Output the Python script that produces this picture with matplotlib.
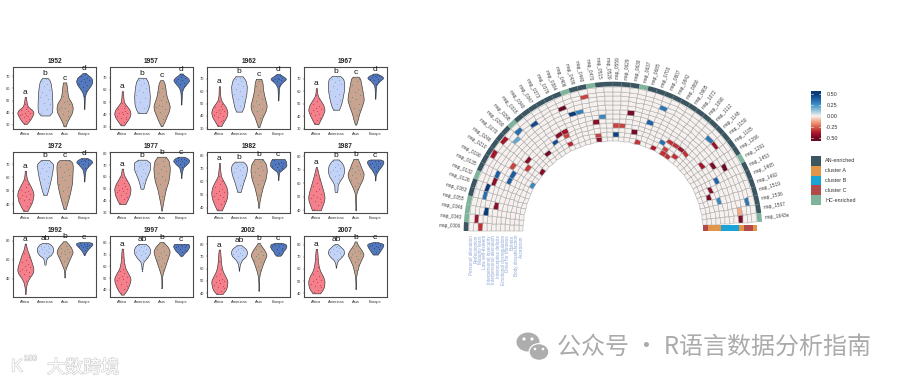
import numpy as np
import matplotlib
matplotlib.use('Agg')
from matplotlib import pyplot as plt
from matplotlib import patheffects as pe
from matplotlib.colors import LinearSegmentedColormap
from matplotlib.patches import Ellipse

W, H = 900, 383
plt.rcParams['font.family'] = ['Liberation Sans', 'DejaVu Sans']

continents = ['Africa', 'Americas', 'Asia', 'Europe']
fills = ['#F4808C', '#C3D2F6', '#C9A38F', '#5378BC']
dot_cols = ['#CC3F52', '#78B4D2', '#4F9E82', '#2B4A93']
spread = [-.7, .35, .85, -.25, .55, -.9, .1, -.5, .7, -.1, .45, -.75, .25, .9, -.4, .6]

# life expectancy, half width of the violin
outline_1952 = [[(30.5,.05),(32,.15),(35,.28),(38,.38),(40,.42),(42,.36),(45,.13),(48,.07),(53,.03)],
                [(37.6,.2),(40,.36),(45,.38),(55,.36),(60,.33),(65,.28),(68,.2),(68.8,.1)],
                [(28.6,.05),(32,.12),(36,.25),(40,.38),(44,.42),(48,.36),(52,.2),(56,.15),(60,.13),(65,.08)],
                [(43,.01),(48,.02),(53,.03),(57,.1),(60,.22),(63,.36),(66,.42),(69,.36),(71,.2),(72.8,.07)]]
outline_1957 = [[(31,.08),(34,.22),(38,.38),(41,.42),(44,.36),(47,.22),(50,.08),(54,.05),(59,.03)],
                [(41,.2),(44,.3),(48,.38),(55,.4),(62,.36),(67,.3),(70,.18)],
                [(30.3,.03),(34,.15),(38,.25),(43,.38),(46.5,.42),(50,.36),(54,.27),(58,.22),(63,.18),(67,.12),(68,.05)],
                [(48,.01),(52,.02),(56,.03),(59,.05),(62,.12),(65,.28),(68,.42),(70.5,.3),(72,.15),(73.5,.06)]]
outline_1962 = [[(32,.1),(35,.2),(39,.36),(43,.42),(47,.34),(50,.2),(53,.08),(57,.04),(64,.03)],
                [(43.5,.14),(47,.24),(52,.3),(58,.38),(64,.4),(69,.33),(72,.18)],
                [(31,.03),(35,.12),(39,.2),(44,.36),(48,.42),(52,.36),(57,.28),(62,.22),(67,.2),(70,.13)],
                [(52.5,.01),(56,.02),(60,.03),(63,.04),(66,.14),(70,.42),(72,.25),(74,.06)]]
outline_1967 = [[(34,.1),(37,.2),(41,.33),(45,.42),(49,.36),(53,.2),(56,.08),(59,.04),(62.4,.03)],
                [(45.3,.15),(49,.25),(54,.33),(60,.4),(66,.42),(70,.37),(72,.2)],
                [(33.5,.03),(37,.1),(42,.18),(47,.3),(53,.42),(58,.38),(63,.32),(67,.27),(71,.22),(71.5,.1)],
                [(54,.01),(58,.02),(62,.03),(65,.06),(68,.22),(70.5,.42),(72,.35),(74,.08)]]
outline_1972 = [[(35,.1),(38,.22),(42,.35),(47,.42),(50,.38),(54,.25),(58,.1),(61,.05),(65,.03)],
                [(47,.08),(50,.15),(55,.24),(60,.32),(65,.38),(70,.42),(73,.2)],
                [(36.5,.05),(40,.12),(44,.2),(50,.3),(56,.38),(62,.4),(68,.42),(72,.38),(73,.2)],
                [(57,.01),(60,.02),(63,.04),(66,.08),(69,.25),(71.5,.42),(73,.35),(74.5,.15)]]
outline_1977 = [[(37,.15),(40,.25),(45,.38),(50,.42),(54,.34),(58,.2),(62,.07),(67,.03)],
                [(50,.07),(54,.13),(58,.2),(62,.3),(66,.4),(72,.42),(74.5,.2)],
                [(31.5,.02),(36,.05),(42,.12),(50,.22),(56,.34),(62,.4),(68,.42),(74,.36),(77,.2)],
                [(59,.01),(62,.02),(65,.05),(68,.1),(71,.3),(73.5,.42),(75.5,.35),(77,.15)]]
outline_1982 = [[(38,.12),(42,.25),(47,.38),(51.5,.42),(56,.36),(60,.22),(64,.08),(69,.04),(74,.02)],
                [(52,.08),(55,.14),(60,.24),(65,.36),(70,.42),(73,.36),(75,.2)],
                [(40,.02),(44,.04),(50,.12),(56,.22),(62,.36),(68,.42),(73,.38),(77,.2)],
                [(61,.01),(64,.02),(67,.05),(70,.3),(72,.42),(75,.4),(77,.32)]]
outline_1987 = [[(40,.22),(43,.3),(47,.4),(50,.42),(54,.36),(58,.28),(62,.2),(66,.12),(70,.06),(72,.02)],
                [(53.5,.05),(55,.08),(58,.08),(61,.16),(65,.35),(69,.42),(73,.38),(76,.25),(77.5,.12)],
                [(40,.01),(47,.02),(52,.03),(55,.1),(59,.22),(63,.36),(67,.42),(71,.3),(75,.2),(78,.1)],
                [(62,.01),(65,.02),(67,.06),(70,.18),(72,.3),(75,.42),(77,.4),(77.5,.2)]]
outline_1992 = [[(24,.01),(30,.03),(36,.08),(41,.2),(46,.38),(50,.42),(55,.36),(60,.28),(65,.2),(70,.1),(74,.05),(77,.03)],
                [(55,.03),(58,.04),(62,.1),(65,.3),(69,.42),(73,.4),(76,.3),(77.5,.15)],
                [(41.5,.01),(46,.02),(50,.04),(54,.12),(59,.22),(64,.33),(68,.42),(73,.33),(77,.18),(79.5,.06)],
                [(65,.02),(67,.06),(70,.15),(73,.28),(76,.42),(78,.4),(78.5,.2)]]
outline_1997 = [[(36,.05),(39,.2),(43,.32),(47,.4),(50,.42),(54,.3),(58,.16),(63,.09),(68,.06),(72,.05),(75,.03)],
                [(56,.01),(60,.03),(64,.08),(67,.25),(71,.4),(74,.42),(77,.34),(79,.18)],
                [(41.5,.01),(46,.01),(51,.02),(55,.08),(60,.18),(65,.28),(70,.38),(73,.42),(77,.3),(80.5,.08)],
                [(69,.06),(71,.15),(73,.28),(75,.36),(77,.42),(79,.36)]]
outline_2002 = [[(39.5,.15),(42,.3),(45,.38),(50,.42),(54,.3),(58,.17),(63,.1),(68,.07),(73,.05),(75.5,.03)],
                [(58,.01),(61,.02),(64,.06),(67,.15),(70,.35),(73,.42),(76,.36),(79,.12)],
                [(42,.01),(48,.01),(53,.03),(57,.08),(62,.18),(67,.3),(71,.42),(75,.3),(79,.12),(81,.04)],
                [(70.5,.1),(72,.2),(74,.25),(76,.36),(78,.42),(80,.38),(81,.15)]]
outline_2007 = [[(40,.18),(43,.33),(46,.4),(50,.42),(54,.34),(58,.2),(62,.12),(67,.08),(72,.06),(76.5,.03)],
                [(61,.01),(64,.03),(67,.1),(70,.3),(73,.42),(76,.38),(79,.18),(80.5,.06)],
                [(43.5,.01),(49,.01),(54,.03),(58,.08),(63,.16),(68,.3),(72,.42),(76,.28),(80,.1),(82.5,.04)],
                [(71.8,.12),(74,.22),(76,.3),(78,.38),(80,.42),(81,.35),(82,.1)]]

# countries as dots
dots_1952 = [[31,33,35,36,37,38,38,39,40,40,41,42,43,45,47,52],
             [40,43,47,48,51,53,55,57,59,62,64,66,68],
             [30,34,37,39,41,43,44,45,47,49,50,54,58,63],
             [44,54,58,61,63,64,65,66,67,68,69,70,72]]
dots_1957 = [[32,34,36,37,38,39,40,41,41,42,43,44,45,47,49,58],
             [42,45,47,50,53,56,58,60,62,64,66,68,69],
             [31,36,39,42,44,46,47,48,50,52,55,58,62,67],
             [49,60,63,65,66,67,68,69,70,71,72,73]]
dots_1962 = [[33,36,37,39,40,41,42,43,44,45,46,47,48,50,52,60],
             [44,48,51,54,56,58,60,62,64,66,68,70,71],
             [33,38,41,44,46,48,50,52,54,57,60,64,68,69],
             [53,64,66,68,69,69,70,70,71,71,72,73]]
dots_1967 = [[35,37,39,41,42,43,44,45,46,47,48,50,52,54,57,61],
             [46,50,53,56,58,60,62,64,66,67,69,70,71],
             [35,41,45,47,50,52,54,55,57,59,62,65,68,70],
             [55,66,68,69,70,70,71,71,72,72,73,73]]
dots_1972 = [[36,39,41,43,44,45,46,47,48,49,50,51,53,55,58,64],
             [48,52,56,59,61,63,65,67,68,70,71,72],
             [37,42,46,50,53,55,58,60,62,64,66,68,70,72],
             [58,67,69,70,71,71,72,72,73,73,74,74]]
dots_1977 = [[38,41,43,45,46,47,48,49,50,51,52,53,55,57,60,65],
             [51,55,58,61,63,65,67,69,70,71,72,73],
             [32,44,50,54,57,59,61,63,65,67,69,71,73,76],
             [60,68,70,71,72,73,73,74,74,75,75,76]]
dots_1982 = [[39,43,45,47,48,49,50,51,52,53,54,56,58,60,64,72],
             [53,57,61,63,65,67,69,70,71,72,73,74],
             [41,50,55,58,61,63,65,67,69,70,72,73,75,76],
             [62,69,70,71,72,72,73,73,74,74,75,76]]
dots_1987 = [[41,44,46,47,48,49,50,51,52,54,56,58,60,63,66,70],
             [54,60,63,65,66,68,69,70,71,72,74,76,77],
             [41,52,56,58,60,62,64,66,67,68,70,71,73,77],
             [63,69,71,72,73,74,74,75,75,76,76,77]]
dots_1992 = [[25,38,43,45,47,48,49,50,52,54,56,58,60,63,67,73],
             [56,63,65,67,68,69,70,71,72,73,74,75,77],
             [42,52,56,59,62,64,66,67,68,69,71,72,75,79],
             [66,70,72,73,74,75,75,76,76,77,77,78]]
dots_1997 = [[37,41,43,45,47,48,49,50,51,52,54,56,58,62,68,74],
             [57,65,68,70,71,72,73,74,75,76,77,78],
             [42,53,57,60,63,65,67,69,70,71,73,75,77,80],
             [69,72,74,75,76,76,77,77,78,78,79,79]]
dots_2002 = [[40,42,44,45,46,47,48,49,50,51,52,54,56,60,66,75],
             [58,65,68,70,71,72,73,74,75,76,77,78],
             [43,55,59,62,65,67,69,70,71,72,74,76,78,80],
             [71,73,75,76,77,78,78,79,79,80,80,80]]
dots_2007 = [[41,43,45,46,47,48,49,50,51,52,54,56,58,62,68,76],
             [61,68,71,72,73,74,75,76,77,78,79,80],
             [44,59,63,66,68,70,71,72,73,74,75,77,79,82],
             [72,74,76,77,78,79,79,80,80,81,81,81]]

years = [1952, 1957, 1962, 1967, 1972, 1977, 1982, 1987, 1992, 1997, 2002, 2007]
outlines = [outline_1952, outline_1957, outline_1962, outline_1967, outline_1972, outline_1977,
            outline_1982, outline_1987, outline_1992, outline_1997, outline_2002, outline_2007]
all_dots = [dots_1952, dots_1957, dots_1962, dots_1967, dots_1972, dots_1977,
            dots_1982, dots_1987, dots_1992, dots_1997, dots_2002, dots_2007]
letters = [list('abcd')] * 4 + [list('abcd')] + [list('abbc')] * 3 + [['a', 'ab', 'b', 'c']] * 4
ylims = [(26.4, 77.8), (28, 78.8), (29.5, 79.5), (32, 79.2), (33.5, 79), (29.5, 81), (36, 82.3), (38, 83),
         (21, 85), (34, 85.7), (37, 86.5), (37, 87)]
yticks = [[30, 40, 50, 60, 70]] * 4 + [[40, 50, 60, 70], [30, 40, 50, 60, 70, 80]] + [[40, 50, 60, 70, 80]] * 2 + \
         [[40, 60, 80]] + [[40, 50, 60, 70, 80]] * 3

# heatmap: column, row (0 = outer), correlation
cell_col = [22,19,20,21,23,24,26,26,23,23,15,13,12,11,9,18,17,18,16,18,14,11,9,10,11,7,6,8,7,5,4,3,2,1,0,8,
            32,31,28,27,29,26,30,33,34,35,36,37,38,35,35,36,37,39,40,41,42,43,44,45,46,47,48,49,50]
cell_row = [1,2,4,4,7,6,10,8,10,11,2,1,2,0,0,7,7,8,8,10,9,7,5,8,11,3,3,6,6,2,2,5,3,1,2,11,
            2,6,5,8,9,10,11,11,9,8,8,8,8,10,11,11,10,2,2,7,5,3,6,8,9,7,1,3,3]
cell_val = [-.3,-.5,.5,.3,-.45,.28,.45,-.3,-.3,-.45,.45,.35,.2,-.4,-.4,-.4,-.45,-.3,.45,-.35,-.5,-.45,-.3,-.32,-.45,.4,-.45,.4,.4,.5,.35,-.45,.5,-.4,-.33,.28,
            .33,.38,-.48,-.3,-.48,.48,-.32,-.38,.35,-.33,-.33,-.42,-.33,-.3,-.33,-.33,-.33,.33,-.42,-.4,-.47,-.5,.38,-.45,-.48,.28,.33,-.12,-.47]

map_ids = ['0006','0040','0046','0055','0083','0126','0132','0135','0190','0210','0246','0270','0290','0298','0318',
           '0340','0347','0373','0376','0384','0406','0439','0440','0470','0515','0529','0559','0629','0630','0637',
           '0685','0703','0807','0842','0860','0905','1072','1090','1112','1148','1150','1185','1266','1291','1453',
           '1465','1492','1519','1536','1567','1643e']
hc_cols = [1, 2, 3, 6, 13, 20, 23, 29, 43, 50]
scales = ['Personal alienation', 'Perfectionism', 'Maturity fears', 'Low self-esteem', 'Interpersonal insecurity',
          'Interpersonal alienation', 'Interoceptive deficits', 'Emotional dysregulation', 'Drive for thinness',
          'Bulimia', 'Body dissatisfaction', 'Asceticism']
# inner to outer row
strip_groups = ['cluster C', 'cluster A', 'cluster A', 'cluster A', 'cluster B', 'cluster B', 'cluster B', 'cluster B',
                'cluster A', 'cluster C', 'cluster C', 'cluster A']
legend_names = ['AN-enriched', 'cluster A', 'cluster B', 'cluster C', 'HC-enriched']
legend_cols = ['#3B5661', '#E0954A', '#1BA3D8', '#B34A4A', '#7FB39C']
bar_ticks = [-0.5, -0.25, 0.0, 0.25, 0.5]


def box(x0, y0, x1, y1, **kw):
    # axes from pixel corners, y counted from the top
    return fig.add_axes([x0 / W, 1 - y1 / H, (x1 - x0) / W, (y1 - y0) / H], **kw)


def rounded(ys, ws):
    # round off the corners of the violin outline when drawing it
    yy = np.linspace(ys[0], ys[-1], 120)
    ww = np.interp(yy, ys, ws)
    k = 9
    pad = np.r_[np.full(k, ww[0]), ww, np.full(k, ww[-1])]
    return yy, np.convolve(pad, np.ones(k) / k, mode='same')[k:-k]


fig = plt.figure(figsize=(W / 100, H / 100), dpi=100)

lefts = [13, 110, 207, 304]
tops = [67, 152, 236]
bottoms = [129, 213, 297]

for n, year in enumerate(years):
    r, c = divmod(n, 4)
    ax = box(lefts[c], tops[r], lefts[c] + 83, bottoms[r])
    for i in range(4):
        ys = [p[0] for p in outlines[n][i]]
        ws = np.array([p[1] for p in outlines[n][i]])
        yy, ww = rounded(ys, ws)
        ax.fill_betweenx(yy, i + 1 - ww, i + 1 + ww, facecolor=fills[i], edgecolor='#333333', linewidth=0.45)
        vals = np.array(all_dots[n][i], dtype=float)
        off = np.array([spread[k % len(spread)] for k in range(len(vals))])
        ax.scatter(i + 1 + off * np.interp(vals, yy, ww) * 0.8, vals, s=0.7, color=dot_cols[i], linewidths=0)
        ax.annotate(letters[n][i], (i + 1, max(ys)), xytext=(0, 0.6), textcoords='offset points',
                    ha='center', va='bottom', fontsize=6, color='#111111')
    ax.set_xlim(0.37, 4.6)
    ax.set_ylim(*ylims[n])
    ax.set_xticks([1, 2, 3, 4])
    ax.set_xticklabels(continents)
    ax.set_yticks(yticks[n])
    ax.tick_params(labelsize=2.9, length=1, width=0.3, pad=1.2, colors='#333333')
    for s in ax.spines.values():
        s.set_linewidth(0.8)
        s.set_color('#4A4A4A')
    ax.set_title(str(year), fontsize=4.8, fontweight='bold', pad=3.2, color='#222222')

# semi-circular heatmap
cx, cy = 613, 231
R = 180
pol = box(cx - R, cy - R, cx + R, cy + R, projection='polar')
pol.set_ylim(0, R)
pol.axis('off')
ncol = len(map_ids)
step = np.deg2rad(3.46)
r_edges = 90 + 4.5 * np.arange(13)
th_edges = np.pi - step * np.arange(ncol + 1)
Z = np.zeros((12, ncol))
for col, row, val in zip(cell_col, cell_row, cell_val):
    Z[11 - row, col] = val
cmap = LinearSegmentedColormap.from_list('cor', ['#6E0A26', '#B2182B', '#D6604D', '#F4A582', '#F8F2EE',
                                                 '#92C5DE', '#4393C3', '#2166AC', '#0A3A78'])
pol.pcolormesh(th_edges, r_edges, Z, cmap=cmap, vmin=-0.5, vmax=0.5, edgecolors='#A8A8A8', linewidth=0.35,
               antialiased=True)
pol.bar(th_edges[:-1] - step / 2, 4.7, width=step, bottom=144.6,
        color=[legend_cols[4] if i in hc_cols else legend_cols[0] for i in range(ncol)], linewidth=0)
for i, m in enumerate(map_ids):
    a = (i + 0.5) * 3.46
    th = np.pi - np.deg2rad(a)
    if a < 90:
        pol.text(th, 152, 'map_' + m, rotation=-a, rotation_mode='anchor', ha='right', va='center',
                 fontsize=3.4, color='#444444')
    else:
        pol.text(th, 152, 'map_' + m, rotation=180 - a, rotation_mode='anchor', ha='left', va='center',
                 fontsize=3.4, color='#444444')

for i, name in enumerate(scales):
    fig.text((471.2 + i * 4.55) / W, 1 - 235 / H, name, rotation=90, ha='center', va='top',
             fontsize=3.3, color='#8DA6D6')

strip = box(703, 225, 757, 231)
strip.bar(range(12), 1, width=1, color=[legend_cols[legend_names.index(g)] for g in strip_groups], linewidth=0)
strip.set_xlim(-0.5, 11.5)
strip.set_ylim(0, 1)
strip.axis('off')

# colour bar
cb = box(811, 91, 820.7, 140.7)
grad = np.linspace(0.565, -0.565, 200).reshape(-1, 1)
cb.imshow(grad, cmap=cmap, vmin=-0.5, vmax=0.5, aspect='auto', extent=[0, 1, -0.565, 0.565])
cb.set_xticks([])
cb.yaxis.tick_right()
cb.set_yticks(bar_ticks)
cb.set_yticklabels(['-0.50', '-0.25', '0.00', '0.25', '0.50'])
cb.tick_params(axis='y', length=0, labelsize=3.9, labelcolor='#333333', pad=4)
for t in bar_ticks:
    cb.plot([0, 0.2], [t, t], color='white', lw=0.4)
    cb.plot([0.8, 1], [t, t], color='white', lw=0.4)
cb.set_xlim(0, 1)
cb.set_ylim(-0.565, 0.565)
for s in cb.spines.values():
    s.set_visible(False)

# cluster legend
leg = box(811, 156, 890, 205)
leg.barh(range(5), 9.7, height=1, color=legend_cols, linewidth=0)
for i, name in enumerate(legend_names):
    leg.text(14, i, name, va='center', ha='left', fontsize=3.9, color='#333333')
leg.set_xlim(0, 79)
leg.set_ylim(4.5, -0.5)
leg.axis('off')

# watermarks
over = box(0, 0, W, H)
over.set_xlim(0, W)
over.set_ylim(H, 0)
over.axis('off')
over.add_patch(Ellipse((528, 342), 23, 19, color='#ADADAD', lw=0))
over.add_patch(Ellipse((539, 352), 21, 18, color='white', lw=0))
over.add_patch(Ellipse((539, 352), 18.5, 15.5, color='#ADADAD', lw=0))
for ex, ey, d in [(524, 339, 3.2), (532, 339, 3.2), (535, 349, 2.6), (543, 349, 2.6)]:
    over.add_patch(Ellipse((ex, ey), d, d, color='white', lw=0))
cjk = ['Noto Sans CJK SC', 'DejaVu Sans']
over.text(557, 347, '公众号 · R语言数据分析指南', family=cjk, fontsize=17.3, color='#ABABAB', va='center', ha='left')
halo = [pe.withStroke(linewidth=0.9, foreground='#CFCFCF')]
over.text(47, 368, '大数跨境', family=cjk, fontsize=13, color='white', va='center', ha='left', path_effects=halo)
over.text(11, 367, 'K', fontsize=13, color='white', va='center', ha='left', path_effects=halo)
over.text(24, 359, '100', fontsize=5.5, color='white', va='center', ha='left', path_effects=halo)

fig.savefig('out.png', dpi=100)
